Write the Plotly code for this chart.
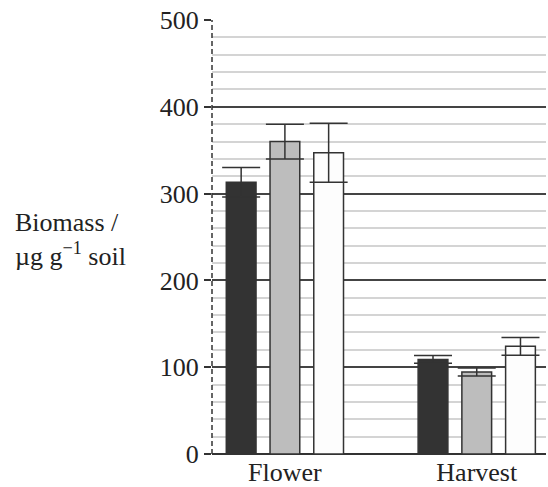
import plotly.graph_objects as go

categories = ["Flower", "Harvest"]
series_a = [313, 109]
series_b = [360, 94.5]
series_c = [347, 124]
err_a = [17, 4.4]
err_b = [20, 4.5]
err_c = [34, 10.3]
y_ticks = [0, 100, 200, 300, 400, 500]

FONT = "Liberation Serif"
FS = 26
fills = ["#333333", "#bdbdbd", "#fdfdfd"]
edge = "#333333"

fig = go.Figure()
for name, vals, errs, col in [("A", series_a, err_a, fills[0]),
                              ("B", series_b, err_b, fills[1]),
                              ("C", series_c, err_c, fills[2])]:
    fig.add_trace(go.Bar(
        x=categories, y=vals, name=name,
        marker=dict(color=col, line=dict(color=edge, width=1.5)),
        error_y=dict(type="data", array=errs, visible=True,
                     color="#333333", thickness=1.5, width=19),
        showlegend=False,
    ))

fig.update_layout(
    width=548, height=487,
    margin=dict(l=212, r=2, t=20, b=33),
    paper_bgcolor="white", plot_bgcolor="white",
    barmode="group", bargap=0.316, bargroupgap=0.32,
    font=dict(family=FONT, size=FS, color="#222222"),
)
fig.update_xaxes(
    type="category", range=[-0.38, 1.361], automargin=False,
    showgrid=False, showline=False, ticks="",
    tickfont=dict(family=FONT, size=FS, color="#222222"),
)
fig.update_yaxes(
    range=[0, 500], tickvals=y_ticks, automargin=False,
    showgrid=True, gridcolor="#444444", gridwidth=1.5,
    zeroline=True, zerolinecolor="#333333", zerolinewidth=1.5,
    ticks="outside", ticklen=7, tickcolor="#333333", tickwidth=1.5,
    showline=False,
    minor=dict(dtick=20, showgrid=True, gridcolor="#d4d4d4", gridwidth=1.8, ticks=""),
    tickfont=dict(family=FONT, size=FS, color="#222222"),
)
# dashed vertical axis line
fig.add_shape(type="line", xref="paper", yref="paper", x0=0, x1=0, y0=0, y1=1,
              line=dict(color="#333333", width=1.5, dash="5px,3px"), layer="above")

fig.add_annotation(
    text="Biomass /<br>\u00b5g g<sup>\u22121</sup> soil",
    xref="paper", yref="paper", x=(13 - 212) / 334, y=(454 - 239) / 434,
    xanchor="left", yanchor="middle", align="left", showarrow=False,
    font=dict(family=FONT, size=FS, color="#222222"),
)

fig.write_html("out.html")
